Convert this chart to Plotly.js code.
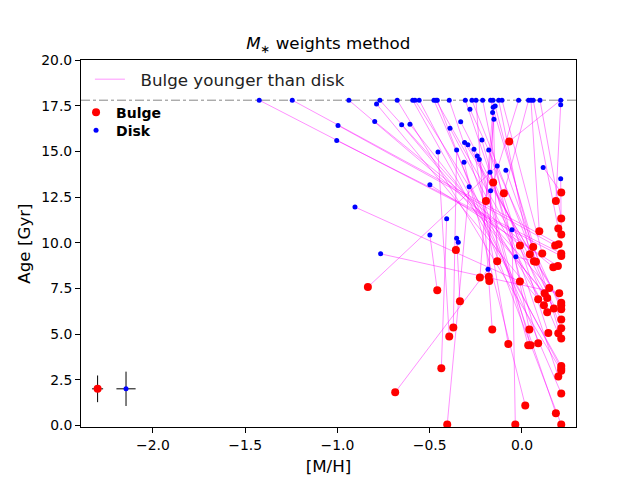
<!DOCTYPE html>
<html>
<head>
<meta charset="utf-8">
<script src="https://cdn.plot.ly/plotly-3.0.1.min.js"></script>
<style>
  body { margin: 0; background: #fff; }
  #chart { width: 640px; height: 480px; }
</style>
</head>
<body>
<div id="chart"></div>
<script>
// one entry per galaxy: disk and bulge of the same galaxy share an index
const diskMH = [-0.134, -0.184, -0.499, -0.408, -0.455, -0.354, -0.314, -0.354, -0.345, -0.905,
  -0.766, -0.286, -0.054, -0.394, -0.459, -0.477, -0.592, -0.557, -0.676, -0.307,
  -1.424, -1.245, -0.938, 0.210, -0.997, -1.004, -0.788, -0.798, -0.770, -0.652,
  -0.607, -0.580, -0.499, -0.466, -0.390, -0.332, -0.311, -0.293, -0.282, -0.271,
  -0.249, -0.260, -0.242, -0.231, -0.217, -0.213, -0.180, -0.173, -0.170, -0.170,
  -0.159, -0.156, -0.157, -0.033, -0.145, -0.126, -0.108, -0.087, -0.152, -0.018,
  0.036, 0.049, 0.061, 0.098, 0.210, 0.115, 0.210];
const diskAge = [14.20, 8.54, 10.42, 11.31, 14.96, 15.08, 14.40, 10.24, 10.03, 11.95,
  9.39, 13.06, 10.71, 17.80, 17.80, 17.80, 17.80, 17.80, 17.80, 17.80,
  17.80, 17.80, 17.80, 17.80, 16.42, 15.60, 17.59, 16.64, 17.80, 16.45,
  16.48, 17.80, 13.17, 17.80, 16.27, 16.62, 15.49, 15.36, 17.31, 17.80,
  17.80, 15.11, 14.74, 14.56, 15.62, 17.80, 15.07, 13.86, 17.80, 12.84,
  17.13, 17.41, 17.80, 9.23, 17.48, 17.80, 17.80, 13.97, 16.75, 17.80,
  17.80, 17.80, 17.80, 17.80, 17.55, 14.12, 13.50];
const bulgeMH = [-0.835, -0.687, -0.459, -0.437, -0.394, -0.372, 0.018, -0.336, -0.358, -0.011,
  0.202, -0.405, -0.036, 0.184, 0.213, 0.213, 0.213, 0.213, 0.213, 0.197,
  0.213, 0.199, -0.011, -0.069, 0.180, 0.213, 0.088, 0.170, 0.148, 0.123,
  0.137, 0.119, 0.195, 0.173, 0.137, 0.213, 0.213, 0.213, 0.213, 0.213,
  -0.161, -0.074, 0.034, 0.047, 0.088, 0.040, 0.143, 0.197, 0.213, -0.177,
  -0.228, -0.180, -0.134, 0.065, 0.076, 0.043, 0.110, 0.061, -0.195, -0.156,
  -0.098, 0.094, 0.197, 0.213, 0.184, 0.213, 0.213];
const bulgeAge = [7.57, 1.81, 7.39, 3.12, 4.87, 5.36, 1.09, 6.79, 9.60, 7.88,
  7.23, 0.05, 0.05, 0.66, 0.05, 1.75, 3.25, 3.10, 2.99, 2.68,
  9.27, 9.91, 9.85, 15.54, 9.85, 9.41, 6.90, 8.66, 7.52, 7.23,
  6.97, 6.58, 8.72, 6.40, 6.19, 5.80, 6.71, 6.58, 6.35, 5.31,
  5.25, 4.45, 4.38, 4.38, 4.50, 5.25, 5.05, 5.04, 4.76, 7.90,
  8.10, 8.13, 8.98, 8.99, 8.95, 9.36, 9.41, 9.76, 12.28, 13.30,
  12.71, 10.63, 10.78, 11.33, 12.28, 12.75, 10.45];

// typical uncertainties, shown at the lower left
const errMH = [-2.30, -2.146];
const errAge = [2.0, 2.0];
const errMHSize = [0.03, 0.052];
const errAgeSize = [0.73, 0.94];

const maxAge = 17.8;

const lineX = [], lineY = [];
for (let i = 0; i < diskMH.length; i++) {
  if (bulgeAge[i] < diskAge[i]) {
    lineX.push(diskMH[i], bulgeMH[i], null);
    lineY.push(diskAge[i], bulgeAge[i], null);
  }
}

const font = 'DejaVu Sans, sans-serif';
const nb = '\u00a0';

var pairTrace = {
  x: lineX, y: lineY, mode: 'lines', type: 'scatter',
  line: {color: 'rgba(255,0,255,0.55)', width: 0.8},
  showlegend: false, hoverinfo: 'skip'
};
// legend entry only (the legend swatch is paler than the lines)
var pairLegend = {
  x: [null], y: [null], mode: 'lines', type: 'scatter',
  name: nb + nb + 'Bulge younger than disk',
  line: {color: 'rgba(255,0,255,0.28)', width: 1.6},
  legend: 'legend'
};
var diskTrace = {
  x: diskMH, y: diskAge, mode: 'markers', type: 'scatter', name: 'Disk',
  marker: {color: '#0000ff', size: 5, symbol: 'circle'},
  legend: 'legend3'
};
var bulgeTrace = {
  x: bulgeMH, y: bulgeAge, mode: 'markers', type: 'scatter', name: 'Bulge',
  marker: {color: '#ff0000', size: 8, symbol: 'circle'},
  legend: 'legend2'
};
var errBulge = {
  x: [errMH[0]], y: [errAge[0]], mode: 'markers', type: 'scatter', showlegend: false,
  marker: {color: '#ff0000', size: 8},
  error_x: {type: 'constant', value: errMHSize[0], color: 'black', thickness: 1, width: 0},
  error_y: {type: 'constant', value: errAgeSize[0], color: 'black', thickness: 1, width: 0}
};
var errDisk = {
  x: [errMH[1]], y: [errAge[1]], mode: 'markers', type: 'scatter', showlegend: false,
  marker: {color: '#0000ff', size: 5},
  error_x: {type: 'constant', value: errMHSize[1], color: 'black', thickness: 1, width: 0},
  error_y: {type: 'constant', value: errAgeSize[1], color: 'black', thickness: 1, width: 0}
};

var axisCommon = {
  showline: true, mirror: true, linecolor: 'black', linewidth: 1,
  ticks: 'outside', ticklen: 5, tickwidth: 1, tickcolor: 'black',
  showgrid: false, zeroline: false, tickformat: '.1f',
  tickfont: {family: font, size: 13.9, color: 'black'}
};

var markerLegendFont = {family: font, size: 14, color: 'black', weight: 'bold'};

var layout = {
  width: 640, height: 480,
  margin: {l: 81, r: 64, t: 60, b: 53},
  paper_bgcolor: 'white', plot_bgcolor: 'white',
  font: {family: font, color: 'black'},
  title: {
    text: '<i>M</i><sub>∗</sub> weights method',
    font: {family: font, size: 16.7, color: 'black'},
    x: 0.513, xanchor: 'center', y: 0.91, yanchor: 'middle', yref: 'container'
  },
  xaxis: Object.assign({}, axisCommon, {
    range: [-2.39, 0.293], dtick: 0.5, tick0: 0,
    title: {text: '[M/H]', font: {family: font, size: 16.7, color: 'black'}, standoff: 8}
  }),
  yaxis: Object.assign({}, axisCommon, {
    range: [-0.09, 20.0], dtick: 2.5, tick0: 0,
    title: {text: 'Age [Gyr]', font: {family: font, size: 16.7, color: 'black'}, standoff: 6}
  }),
  shapes: [{
    type: 'line', xref: 'paper', x0: 0, x1: 1, yref: 'y', y0: maxAge, y1: maxAge,
    line: {color: '#555555', width: 0.7, dash: 'dashdot'}, layer: 'below'
  }],
  legend: {
    x: 0.018, y: 0.995, xanchor: 'left', yanchor: 'top',
    bgcolor: 'rgba(0,0,0,0)', borderwidth: 0,
    font: {family: font, size: 16.7, color: '#222'}
  },
  legend2: {
    x: -0.01, y: 0.9, xanchor: 'left', yanchor: 'top',
    bgcolor: 'rgba(0,0,0,0)', borderwidth: 0,
    font: markerLegendFont
  },
  legend3: {
    x: -0.01, y: 0.851, xanchor: 'left', yanchor: 'top',
    bgcolor: 'rgba(0,0,0,0)', borderwidth: 0,
    font: markerLegendFont
  }
};

Plotly.newPlot('chart', [pairTrace, pairLegend, diskTrace, bulgeTrace, errBulge, errDisk], layout,
  {displayModeBar: false, staticPlot: true});
</script>
</body>
</html>
